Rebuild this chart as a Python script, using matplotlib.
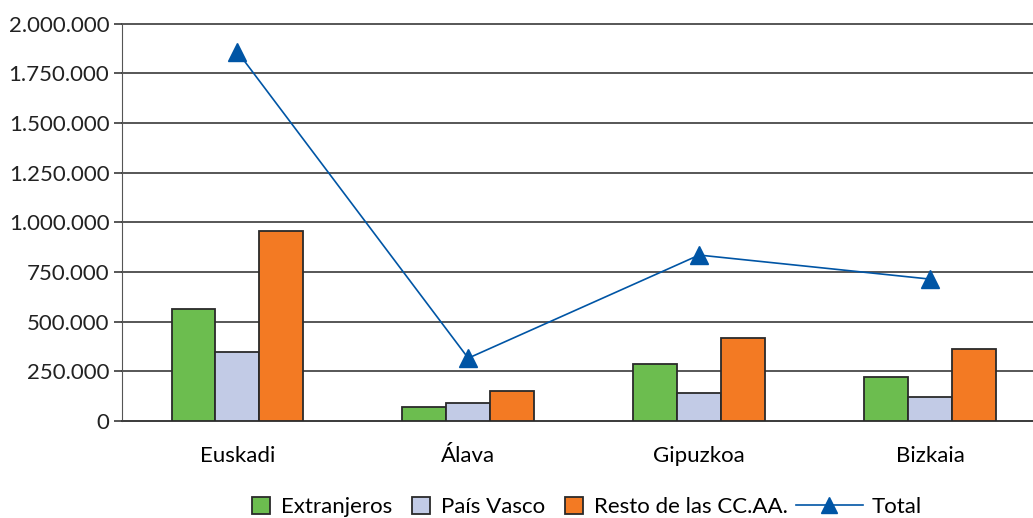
import matplotlib.pyplot as plt
import numpy as np
from matplotlib.ticker import FuncFormatter

plt.rcParams['font.family'] = ['Lato', 'DejaVu Sans']

regiones = ['Euskadi', 'Álava', 'Gipuzkoa', 'Bizkaia']
extranjeros = [564000, 70000, 287000, 222000]
pais_vasco = [347000, 90000, 141000, 121000]
resto = [957000, 151000, 418000, 363000]
total = [1860000, 317000, 836000, 715000]

x = np.arange(len(regiones))
w = 0.19

fig = plt.figure(figsize=(10.33, 5.18), dpi=100)
ax = fig.add_axes([0.118, 0.187, 0.882, 0.767])

b1 = ax.bar(x - w, extranjeros, w, color='#6CBD4F', edgecolor='#2a2a2a', linewidth=1.3, zorder=3)
b2 = ax.bar(x, pais_vasco, w, color='#C2CBE6', edgecolor='#2a2a2a', linewidth=1.3, zorder=3)
b3 = ax.bar(x + w, resto, w, color='#F37A23', edgecolor='#2a2a2a', linewidth=1.3, zorder=3)
l1, = ax.plot(x, total, color='#0055A5', linewidth=1.2, marker='^', markersize=13, zorder=4)

ax.set_ylim(0, 2000000)
ax.set_xlim(-0.5, 3.446)
ax.set_yticks(np.arange(0, 2000001, 250000))
ax.yaxis.set_major_formatter(FuncFormatter(lambda v, p: f'{int(v):,}'.replace(',', '.')))
ax.grid(axis='y', color='#3a3a3a', linewidth=1.2, zorder=0)
ax.set_xticks(x)
ax.set_xticklabels(regiones, fontsize=16)
ax.tick_params(axis='x', length=0, pad=18)
ax.tick_params(axis='y', labelsize=16, length=6, width=1.2, color='#3a3a3a', pad=3, labelcolor='#222222')
for s in ['top', 'right']:
    ax.spines[s].set_visible(False)
ax.spines['left'].set_color('#555555')
ax.spines['bottom'].set_color('#3a3a3a')
ax.spines['bottom'].set_linewidth(1.2)
for t in ax.get_ygridlines():
    t.set_clip_on(False)

# leyenda en dos partes: cuadrados cortos y linea larga para Total
fig.legend([b1, b2, b3], ['Extranjeros', 'País Vasco', 'Resto de las CC.AA.'],
           loc='center left', bbox_to_anchor=(252/1033, 11/518), ncol=3, frameon=False, fontsize=16,
           handlelength=0.8, handleheight=0.8, columnspacing=0.9, handletextpad=0.5,
           borderaxespad=0, borderpad=0)
leg2 = fig.legend([l1], ['Total'],
                  loc='center left', bbox_to_anchor=(796/1033, 11/518), frameon=False, fontsize=16,
                  handlelength=3.0, handletextpad=0.4, borderaxespad=0, borderpad=0)
leg2.legend_handles[0].set_markersize(12)

plt.savefig('out.png', dpi=100)
